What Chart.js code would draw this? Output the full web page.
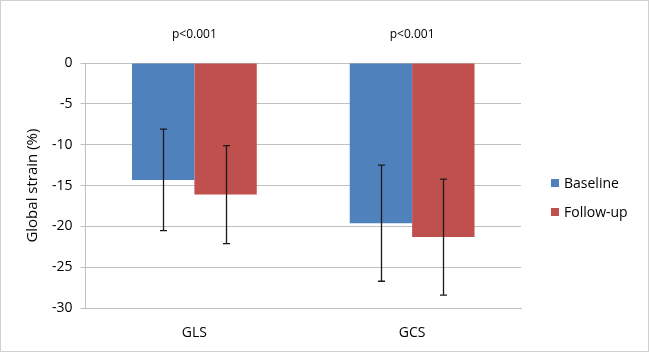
<!DOCTYPE html>
<html>
<head>
<meta charset="utf-8">
<script src="https://cdn.jsdelivr.net/npm/chart.js@4.4.1/dist/chart.umd.min.js"></script>
<style>
  html, body { margin: 0; padding: 0; background: #fff; }
  #wrap { width: 649px; height: 352px; box-sizing: border-box; border: 1px solid #d0d0d0; position: relative; }
  canvas { display: block; }
</style>
</head>
<body>
<div id="wrap"><canvas id="chart" width="647" height="350"></canvas></div>
<script>
const categories = ['GLS', 'GCS'];
const baseline = [-14.3, -19.6];
const followUp = [-16.1, -21.3];
const baselineErr = [6.2, 7.1];
const followUpErr = [6.0, 7.1];
const pLabels = ['p<0.001', 'p<0.001'];
const seriesNames = ['Baseline', 'Follow-up'];
const seriesColors = ['#4F81BD', '#C0504D'];

const FONT = "'Open Sans', 'Liberation Sans', sans-serif";
const errors = [baselineErr, followUpErr];

const extras = {
  id: 'extras',
  afterDatasetsDraw(chart) {
    const c = chart.ctx;
    const yScale = chart.scales.y;
    const xScale = chart.scales.x;
    c.save();
    // error bars
    c.strokeStyle = '#1a1a1a';
    c.lineWidth = 1.3;
    chart.data.datasets.forEach((ds, di) => {
      chart.getDatasetMeta(di).data.forEach((bar, i) => {
        const v = ds.data[i];
        const e = errors[di][i];
        const top = yScale.getPixelForValue(v + e);
        const bot = yScale.getPixelForValue(v - e);
        const x = Math.round(bar.x) + 0.5;
        c.beginPath();
        c.moveTo(x, top); c.lineTo(x, bot);
        c.moveTo(x - 3.5, top); c.lineTo(x + 3.5, top);
        c.moveTo(x - 3.5, bot); c.lineTo(x + 3.5, bot);
        c.stroke();
      });
    });
    // p-value labels
    c.fillStyle = '#000';
    c.font = '12px ' + FONT;
    c.textAlign = 'center';
    c.textBaseline = 'middle';
    pLabels.forEach((t, i) => {
      c.fillText(t, xScale.getPixelForValue(i), 34);
    });
    // legend
    c.font = '14px ' + FONT;
    c.textAlign = 'left';
    seriesNames.forEach((name, i) => {
      const y = 182 + i * 29;
      c.fillStyle = seriesColors[i];
      c.fillRect(550, y - 4, 8, 8);
      c.fillStyle = '#000';
      c.fillText(name, 563, y + 1);
    });
    c.restore();
  }
};

new Chart(document.getElementById('chart'), {
  type: 'bar',
  data: {
    labels: categories,
    datasets: seriesNames.map((name, i) => ({
      label: name,
      data: i === 0 ? baseline : followUp,
      backgroundColor: seriesColors[i],
      borderWidth: 0,
      categoryPercentage: 0.573,
      barPercentage: 1.0
    }))
  },
  options: {
    responsive: false,
    animation: false,
    layout: { padding: { top: 62, right: 127, left: 23, bottom: 2 } },
    plugins: {
      legend: { display: false },
      tooltip: { enabled: false }
    },
    scales: {
      x: {
        grid: { display: false },
        border: { display: true, color: '#c0c0c0', width: 1 },
        ticks: { color: '#000', font: { family: FONT, size: 14 }, padding: 8 }
      },
      y: {
        min: -30,
        max: 0,
        ticks: { stepSize: 5, color: '#000', font: { family: FONT, size: 14 }, padding: 8 },
        grid: { color: '#c0c0c0', lineWidth: 1, tickLength: 5 },
        border: { display: true, color: '#c0c0c0', width: 1 },
        title: { display: true, text: 'Global strain (%)', color: '#000', font: { family: FONT, size: 15 }, padding: { top: 0, bottom: 2 } }
      }
    }
  },
  plugins: [extras]
});
</script>
</body>
</html>
